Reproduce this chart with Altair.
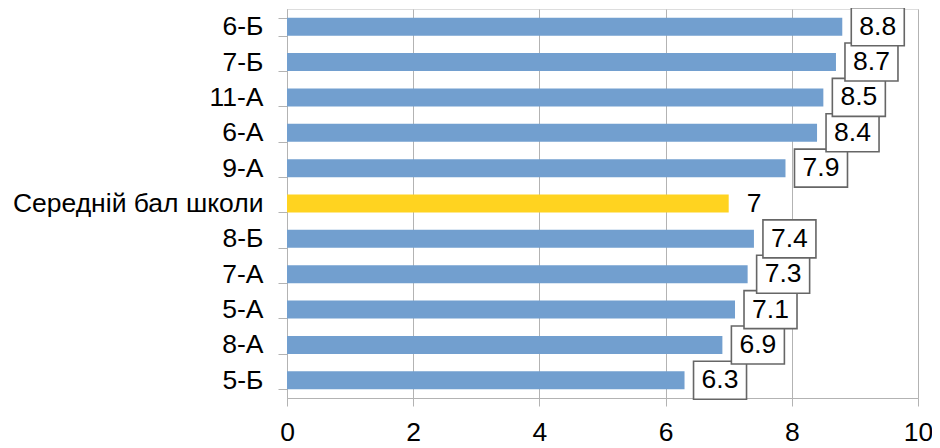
import altair as alt
import pandas as pd

categories = ["6-Б", "7-Б", "11-А", "6-А", "9-А", "Середній бал школи",
              "8-Б", "7-А", "5-А", "8-А", "5-Б"]
values = [8.8, 8.7, 8.5, 8.4, 7.9, 7, 7.4, 7.3, 7.1, 6.9, 6.3]
average_label = "Середній бал школи"
x_ticks = [0, 2, 4, 6, 8, 10]

# reversed so that upper label boxes are drawn on top
df = pd.DataFrame({"cat": categories[::-1], "v": values[::-1]})

FONT = "Liberation Sans"
FS = 26.5
GRID = "#b3b3b3"

y_enc = alt.Y("cat:N", sort=categories, title=None,
              scale=alt.Scale(paddingInner=0.5, paddingOuter=0.25),
              axis=alt.Axis(labelFont=FONT, labelFontSize=FS, labelColor="#000000",
                            domainColor=GRID, tickColor=GRID, tickSize=9,
                            tickBand="extent", labelPadding=15, grid=False,
                            labelLimit=400))
x_scale = alt.Scale(domain=[0, 10], nice=False)
x_enc = alt.X("v:Q", scale=x_scale, title=None,
              axis=alt.Axis(values=x_ticks, format="d", labelFont=FONT, labelFontSize=FS,
                            labelColor="#000000", domainColor=GRID, tickColor=GRID,
                            tickSize=8, gridColor=GRID, grid=True, labelPadding=13,
                            labelFlush=False))

base = alt.Chart(df)

bars = base.mark_bar(height=18).encode(
    x=x_enc, y=y_enc,
    color=alt.condition(alt.datum.cat == average_label,
                        alt.value("#ffd320"), alt.value("#729fcf")),
)

not_avg = alt.datum.cat != average_label

boxes = base.transform_filter(not_avg).mark_bar(
    height=38, xOffset=9, x2Offset=62, fill="white", stroke="#666666",
    strokeWidth=1.6
).encode(x=alt.X("v:Q", scale=x_scale), x2="v:Q", y=alt.Y("cat:N", sort=categories))

box_text = base.transform_filter(not_avg).mark_text(
    font=FONT, fontSize=FS, dx=35.5, align="center", baseline="middle", color="#000000"
).encode(x=alt.X("v:Q", scale=x_scale), y=alt.Y("cat:N", sort=categories),
         text=alt.Text("v:Q", format=".1f"))

avg_text = base.transform_filter(alt.datum.cat == average_label).mark_text(
    font=FONT, fontSize=FS, dx=18, align="left", baseline="middle", color="#000000"
).encode(x=alt.X("v:Q", scale=x_scale), y=alt.Y("cat:N", sort=categories),
         text=alt.Text("v:Q", format="d"))

chart = alt.layer(bars, boxes, box_text, avg_text).properties(
    width=631, height=389,
    autosize=alt.AutoSizeParams(type="none"),
    padding={"left": 279, "top": 1, "right": 14, "bottom": 50},
).configure_view(stroke=None).configure(background="white")

chart.save("out.html", embed_options={"renderer": "svg", "actions": False})
